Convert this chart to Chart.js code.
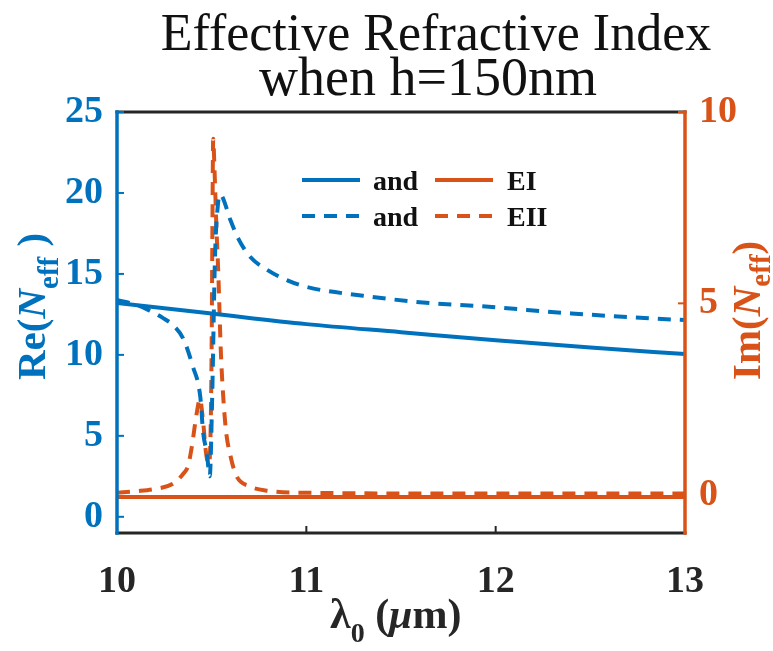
<!DOCTYPE html>
<html>
<head>
<meta charset="utf-8">
<script src="https://cdn.jsdelivr.net/npm/chart.js@4.4.1/dist/chart.umd.min.js"></script>
<style>
  html, body { margin: 0; padding: 0; background: #fff; }
</style>
</head>
<body>
<canvas id="neffChart" width="773" height="651"></canvas>
<script>
// colours (MATLAB defaults)
const BLUE = "#0072BD";
const ORANGE = "#D95319";
const DARK = "#262626";
const SERIF = '"Liberation Serif", "Times New Roman", serif';

// axis ticks
const xTicks = [10, 11, 12, 13];
const reTicks = [0, 5, 10, 15, 20, 25];
const imTicks = [0, 5, 10];

// Re(Neff), solid line
const lamReSolid = [10, 10.5, 11, 11.5, 12, 12.5, 13];
const reSolid = [13.2, 12.55, 11.9, 11.4, 10.9, 10.45, 10.05];

// Re(Neff), dashed line
const lamReDash = [10, 10.1, 10.17, 10.24, 10.3, 10.35, 10.4, 10.44, 10.455, 10.475, 10.49,
    10.502, 10.518, 10.534, 10.545, 10.555, 10.6, 10.64, 10.7, 10.8, 10.9, 11, 11.3, 11.65,
    11.93, 12.4, 12.9, 13];
const reDash = [13.4, 13.1, 12.75, 12.3, 11.8, 11.0, 9.3, 7.4, 5.2, 3.9, 2.5,
    7.0, 16.2, 19.4, 19.9, 19.8, 18.3, 17.2, 16.1, 15.2, 14.6, 14.2, 13.65, 13.2,
    13.0, 12.56, 12.2, 12.15];

// Im(Neff), solid line (EI)
const lamImSolid = [10, 11, 12, 13];
const imSolid = [-0.06, -0.06, -0.06, -0.06];

// Im(Neff), dashed line (EII)
const lamImDash = [10, 10.1, 10.2, 10.3, 10.35, 10.375, 10.395, 10.42, 10.438, 10.455, 10.47,
    10.485, 10.495, 10.5, 10.504, 10.508, 10.515, 10.525, 10.535, 10.548, 10.558, 10.575,
    10.6, 10.63, 10.7, 10.8, 11, 12, 13];
const imDash = [0.05, 0.09, 0.15, 0.3, 0.55, 0.75, 1.25, 2.1, 2.5, 1.9, 1.1,
    0.8, 1.8, 4.0, 7.0, 9.3, 8.5, 7.0, 5.8, 3.8, 2.8, 1.7,
    1.0, 0.5, 0.22, 0.1, 0.05, 0.03, 0.03];

function pts(xs, ys) {
    return xs.map((x, i) => ({ x: x, y: ys[i] }));
}

function line(label, xs, ys, color, axis, dashed) {
    return {
        label: label,
        data: pts(xs, ys),
        yAxisID: axis,
        borderColor: color,
        backgroundColor: color,
        borderWidth: 4,
        borderDash: dashed ? [13, 9] : [],
        pointRadius: 0,
        showLine: true,
        cubicInterpolationMode: "monotone",
        fill: false,
    };
}

// titles, box, inward ticks and legend
const decor = {
    id: "decor",
    afterDatasetsDraw(chart) {
        const ctx = chart.ctx;
        const a = chart.chartArea;
        const sx = chart.scales.x, sy = chart.scales.y, sy1 = chart.scales.y1;
        ctx.save();
        ctx.lineWidth = 3;
        ctx.lineCap = "square";
        // box
        ctx.strokeStyle = DARK;
        ctx.beginPath();
        ctx.moveTo(a.left, a.top); ctx.lineTo(a.right, a.top);
        ctx.moveTo(a.left, a.bottom); ctx.lineTo(a.right, a.bottom);
        ctx.stroke();
        // x ticks (inside)
        ctx.lineWidth = 2;
        xTicks.forEach(v => {
            const px = sx.getPixelForValue(v);
            ctx.beginPath(); ctx.moveTo(px, a.bottom); ctx.lineTo(px, a.bottom - 6); ctx.stroke();
        });
        // left axis
        ctx.strokeStyle = BLUE;
        ctx.lineWidth = 3.5;
        ctx.beginPath(); ctx.moveTo(a.left, a.top); ctx.lineTo(a.left, a.bottom); ctx.stroke();
        ctx.lineWidth = 2;
        reTicks.forEach(v => {
            const py = sy.getPixelForValue(v);
            ctx.beginPath(); ctx.moveTo(a.left, py); ctx.lineTo(a.left + 6, py); ctx.stroke();
        });
        // right axis
        ctx.strokeStyle = ORANGE;
        ctx.lineWidth = 3.5;
        ctx.beginPath(); ctx.moveTo(a.right, a.top); ctx.lineTo(a.right, a.bottom); ctx.stroke();
        ctx.lineWidth = 2;
        imTicks.forEach(v => {
            const py = sy1.getPixelForValue(v);
            ctx.beginPath(); ctx.moveTo(a.right, py); ctx.lineTo(a.right - 6, py); ctx.stroke();
        });
        ctx.restore();
    },
    afterDraw(chart) {
        const ctx = chart.ctx;
        const ds = chart.data.datasets;
        ctx.save();
        ctx.textBaseline = "alphabetic";

        // title
        ctx.fillStyle = "#111";
        ctx.textAlign = "center";
        ctx.font = "52px " + SERIF;
        ctx.fillText("Effective Refractive Index", 436, 50);
        ctx.font = "54px " + SERIF;
        ctx.fillText("when h=150nm", 428, 95);

        // legend
        ctx.textAlign = "left";
        ctx.font = "bold 28px " + SERIF;
        const rows = [[0, 2, 180], [1, 3, 216]];
        rows.forEach(r => {
            [[r[0], 302, 373], [r[1], 435, 507]].forEach(c => {
                const d = ds[c[0]];
                ctx.strokeStyle = d.borderColor;
                ctx.lineWidth = 4;
                ctx.setLineDash(d.borderDash);
                ctx.beginPath(); ctx.moveTo(c[1], r[2]); ctx.lineTo(c[1] + 58, r[2]); ctx.stroke();
                ctx.setLineDash([]);
                ctx.fillStyle = "#111";
                ctx.fillText(d.label, c[2], r[2] + 10);
            });
        });

        // x axis title: λ0 (μm)
        ctx.fillStyle = DARK;
        let x = 330;
        const by = 628;
        const parts = [
            ["λ", "bold 42px ", 0],
            ["0", "bold 28px ", 14],
            [" (", "bold 42px ", 0],
            ["μ", "bold italic 42px ", 0],
            ["m)", "bold 42px ", 0],
        ];
        parts.forEach(p => {
            ctx.font = p[1] + SERIF;
            ctx.fillText(p[0], x, by + p[2]);
            x += ctx.measureText(p[0]).width;
        });

        // rotated y titles
        function yTitle(bits, bx, startY, color) {
            ctx.save();
            ctx.translate(bx, startY);
            ctx.rotate(-Math.PI / 2);
            ctx.fillStyle = color;
            let t = 0;
            bits.forEach(p => {
                ctx.font = p[1] + SERIF;
                ctx.fillText(p[0], t, p[2]);
                t += ctx.measureText(p[0]).width;
            });
            ctx.restore();
        }
        yTitle([["Re(", "bold 41px ", 0], ["N", "bold italic 41px ", 0],
                ["eff", "bold 29px ", 13], [" )", "bold 41px ", 0]], 45, 380, BLUE);
        yTitle([["Im(", "bold 41px ", 0], ["N", "bold italic 41px ", 0],
                ["eff", "bold 29px ", 10], [")", "bold 41px ", 0]], 760, 380, ORANGE);
        ctx.restore();
    },
};

const tickFont = { family: SERIF, size: 38, weight: "bold" };

const ctx = document.getElementById("neffChart").getContext("2d");
const chart = new Chart(ctx, {
    type: "scatter",
    data: {
        datasets: [
            line("and", lamReSolid, reSolid, BLUE, "y", false),
            line("and", lamReDash, reDash, BLUE, "y", true),
            line("EI", lamImSolid, imSolid, ORANGE, "y1", false),
            line("EII", lamImDash, imDash, ORANGE, "y1", true),
        ],
    },
    options: {
        responsive: false,
        animation: false,
        layout: { padding: { top: 112, left: 0, right: 0, bottom: 0 } },
        plugins: {
            legend: { display: false },
            title: { display: false },
            tooltip: { enabled: false },
        },
        scales: {
            x: {
                type: "linear",
                min: 10, max: 13,
                afterFit: s => { s.height = 118; },
                afterBuildTicks: s => { s.ticks = xTicks.map(v => ({ value: v })); },
                ticks: { color: DARK, padding: 26, font: tickFont },
                grid: { display: false, drawTicks: false },
                border: { display: false },
            },
            y: {
                position: "left",
                min: -1, max: 25,
                afterFit: s => { s.width = 117; },
                afterBuildTicks: s => { s.ticks = reTicks.map(v => ({ value: v })); },
                ticks: { color: BLUE, padding: 14, font: tickFont },
                grid: { display: false, drawTicks: false },
                border: { display: false },
            },
            y1: {
                position: "right",
                min: -1, max: 10,
                afterFit: s => { s.width = 88; },
                afterBuildTicks: s => { s.ticks = imTicks.map(v => ({ value: v })); },
                ticks: { color: ORANGE, padding: 14, font: tickFont },
                grid: { display: false, drawTicks: false },
                border: { display: false },
            },
        },
    },
    plugins: [decor],
});
</script>
</body>
</html>
